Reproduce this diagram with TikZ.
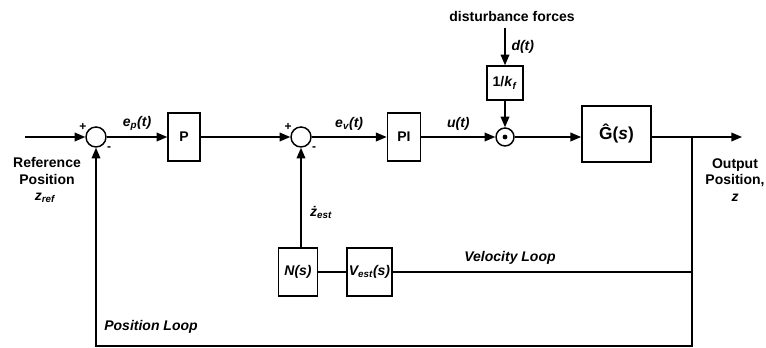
\documentclass[tikz,border=0pt]{standalone}
\usepackage{fontspec}
\setmainfont{Liberation Sans}
\usetikzlibrary{arrows.meta}

\begin{document}
\begin{tikzpicture}[x=0.75pt, y=-0.75pt, line width=1.1pt,
    block/.style={draw, minimum height=36pt, inner sep=0pt, font=\fontsize{10.5}{12}\selectfont\bfseries},
    sumc/.style={draw, circle, minimum size=15pt, inner sep=0pt},
    sig/.style={-{Triangle[length=8pt, width=6.5pt]}},
    lbl/.style={font=\fontsize{10.5}{12}\selectfont\bfseries\itshape},
    txt/.style={font=\fontsize{10.5}{12.5}\selectfont\bfseries, align=center},
    sgn/.style={font=\fontsize{9}{10}\selectfont\bfseries, inner sep=0pt}]
    \useasboundingbox (0,0) rectangle (766,348);

    % Summing junctions
    \node[sumc] (sum1) at (96,137) {};
    \node[sumc] (sum2) at (301,137) {};
    \node[sumc, minimum size=13.5pt] (sum3) at (505,137) {};
    \fill (sum3) circle (1.8pt);
    \node[sgn] (plus1) at (83,127) {+};
    \node[sgn] (minus1) at (109,149) {-};
    \node[sgn] (plus2) at (288,127) {+};
    \node[sgn] (minus2) at (314,149) {-};

    % Blocks
    \node[block, minimum width=24pt] (P) at (184,137) {P};
    \node[block, minimum width=25pt] (PI) at (404,137) {PI};
    \node[block, minimum width=27pt, minimum height=25.5pt] (kf) at (505,83) {1/\textit{k}\textsubscript{\textit{f}}};
    \node[block, minimum width=52pt, minimum height=42pt, font=\fontsize{13}{15}\selectfont\bfseries] (G) at (616.5,134) {Ĝ(\textit{s})};
    \node[block, minimum width=29pt, font=\fontsize{10.5}{12}\selectfont\bfseries\itshape] (N) at (298,272) {N(s)};
    \node[block, minimum width=34pt, font=\fontsize{10.5}{12}\selectfont\bfseries\itshape] (Vest) at (369.5,272) {V\textsubscript{est}(s)};

    % Free ends and corners
    \coordinate (in) at (25,137);
    \coordinate (dist) at (505,28);
    \coordinate (br) at (692,137);
    \coordinate (out) at (742,137);
    \coordinate (brvel) at (692,272);
    \coordinate (brbot) at (692,346);
    \coordinate (fbbot) at (96,346);

    % Forward path
    \draw[sig] (in) -- (sum1);
    \draw[sig] (sum1) -- (P) node[midway, above=1pt, lbl] {e\textsubscript{p}(t)};
    \draw[sig] (P) -- (sum2);
    \draw[sig] (sum2) -- (PI) node[midway, above=1pt, lbl] {e\textsubscript{v}(t)};
    \draw[sig] (PI) -- (sum3) node[midway, above=1pt, lbl] {u(t)};
    \draw[sig] (sum3) -- (sum3 -| G.west);
    \draw[sig] (G.east |- out) -- (out);

    % Disturbance
    \node[txt] (distlbl) at (512,17) {disturbance forces};
    \draw[sig] (dist) -- (kf) node[midway, right=1pt, lbl] {d(t)};
    \draw[sig] (kf) -- (sum3);

    % Velocity loop
    \draw (brvel) -- (Vest);
    \draw (Vest) -- (N);
    \draw[sig] (N.north -| sum2) -- (sum2) node[pos=0.35, right=3pt, lbl] {ż\textsubscript{est}};
    \node[lbl] (vloop) at (510,258) {Velocity Loop};

    % Position loop
    \draw[sig] (br) -- (brbot) -- (fbbot) -- (sum1);
    \node[lbl] (ploop) at (151,327) {Position Loop};

    % Outer texts
    \node[txt] (reflbl) at (47,171) {Reference\\Position};
    \node[lbl] (zref) at (45,198) {z\textsubscript{ref}};
    \node[txt] (outlbl) at (735,180) {Output\\Position,\\\textit{z}};
\end{tikzpicture}
\end{document}
